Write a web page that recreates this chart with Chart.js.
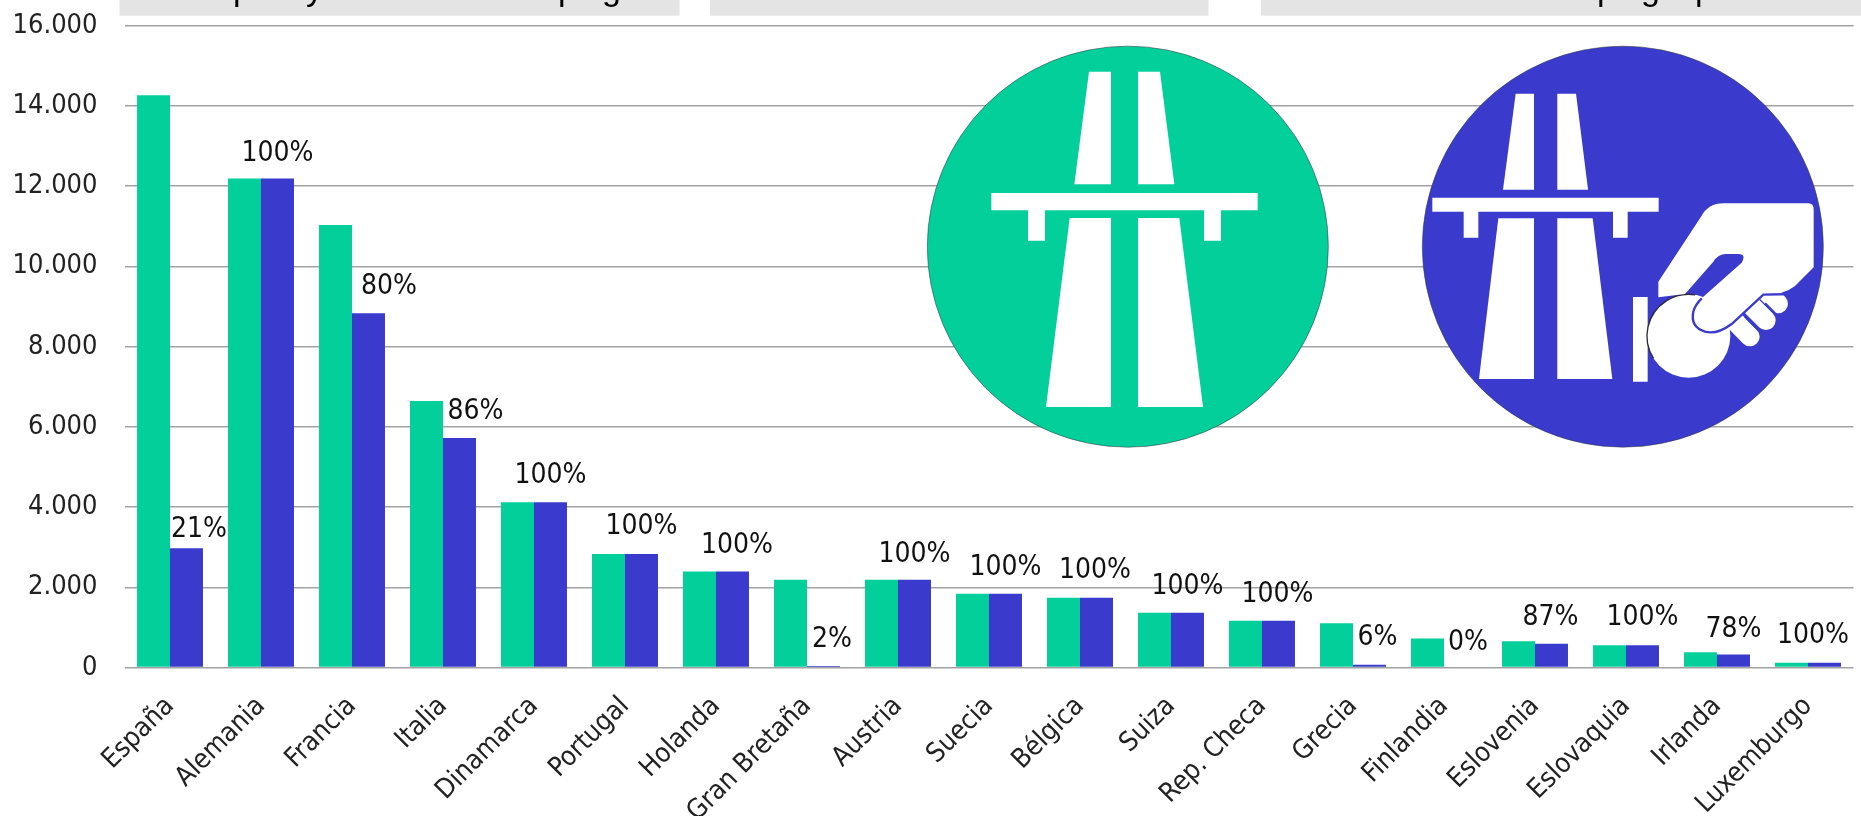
<!DOCTYPE html>
<html>
<head>
<meta charset="utf-8">
<title>Autopistas</title>
<style>
    html, body { margin: 0; padding: 0; background: #fff; overflow: hidden; }
    canvas { display: block; }
</style>
<script src="https://cdn.jsdelivr.net/npm/chart.js@4/dist/chart.umd.min.js"></script>
</head>
<body>
<canvas id="roadsChart" width="1861" height="816"></canvas>
<script>
const categories = ['España', 'Alemania', 'Francia', 'Italia', 'Dinamarca', 'Portugal', 'Holanda', 'Gran Bretaña', 'Austria', 'Suecia', 'Bélgica', 'Suiza', 'Rep. Checa', 'Grecia', 'Finlandia', 'Eslovenia', 'Eslovaquia', 'Irlanda', 'Luxemburgo'];
const totalKm = [14260, 12185, 11030, 6640, 4120, 2830, 2390, 2190, 2190, 1840, 1740, 1365, 1165, 1100, 724, 657, 557, 382, 117];
const tollKm = [2970, 12185, 8830, 5720, 4120, 2830, 2390, 40, 2190, 1840, 1740, 1365, 1165, 70, 0, 590, 557, 325, 117];
const percentLabels = ['21%', '100%', '80%', '86%', '100%', '100%', '100%', '2%', '100%', '100%', '100%', '100%', '100%', '6%', '0%', '87%', '100%', '78%', '100%'];
const yTickLabels = ['0', '2.000', '4.000', '6.000', '8.000', '10.000', '12.000', '14.000', '16.000'];

// hand placed label shifts, relative to the top of the blue bar
const labelShiftX = [12.5, 0, 20.5, 16, 0, 0, 4.5, 8.5, 0, 0, -1.5, 0, -1, 8, 7.5, -1, 0, 0, -11.5];
const labelShiftY = [-19, -25, -26, -26, -26, -27, -26, -26, -25, -26, -27, -26, -26, -27, -25, -26, -27, -25, -27];

const GREEN = '#03CF9B';
const BLUE = '#3A3ACC';
const FONT = "'DejaVu Sans Condensed', 'DejaVu Sans', sans-serif";

function polygon(ctx, points) {
    ctx.beginPath();
    points.forEach((p, i) => i ? ctx.lineTo(p[0], p[1]) : ctx.moveTo(p[0], p[1]));
    ctx.closePath();
    ctx.fill();
}

function disc(ctx, color) {
    ctx.beginPath();
    ctx.arc(623.5, 620, 601.5, 0, Math.PI * 2);
    ctx.fillStyle = color;
    ctx.fill();
    ctx.lineWidth = 3;
    ctx.strokeStyle = 'rgba(50,60,70,0.55)';
    ctx.stroke();
    ctx.fillStyle = '#fff';
}

// icons are sketched in 3x pixels, hence the scale
function drawGreenIcon(ctx) {
    ctx.save();
    ctx.translate(920, 40);
    ctx.scale(1 / 3, 1 / 3);
    disc(ctx, GREEN);
    polygon(ctx, [[507, 95], [573, 95], [573, 433], [463, 433]]);
    polygon(ctx, [[654, 95], [720, 95], [763, 433], [654, 433]]);
    polygon(ctx, [[214, 459], [1013, 459], [1013, 511], [903, 511], [903, 602], [852, 602], [852, 511], [375, 511], [375, 602], [324, 602], [324, 511], [214, 511]]);
    polygon(ctx, [[449, 534], [573, 534], [573, 1101], [378, 1101]]);
    polygon(ctx, [[654, 534], [778, 534], [849, 1101], [654, 1101]]);
    ctx.restore();
}

function drawBlueIcon(ctx) {
    ctx.save();
    ctx.translate(1415, 40);
    ctx.scale(1 / 3, 1 / 3);
    disc(ctx, BLUE);
    polygon(ctx, [[302, 161], [357, 161], [357, 449], [264, 449]]);
    polygon(ctx, [[427, 161], [483, 161], [519, 449], [427, 449]]);
    polygon(ctx, [[52, 473], [731, 473], [731, 515], [638, 515], [638, 593], [594, 593], [594, 515], [190, 515], [190, 593], [146, 593], [146, 515], [52, 515]]);
    polygon(ctx, [[250, 535], [357, 535], [357, 1017], [192, 1017]]);
    polygon(ctx, [[427, 535], [533, 535], [592, 1017], [427, 1017]]);
    polygon(ctx, [[654, 771], [698, 771], [698, 1025], [654, 1025]]);

    // coin
    ctx.beginPath();
    ctx.arc(821, 888, 125, 0, Math.PI * 2);
    ctx.fill();
    ctx.beginPath();
    ctx.arc(821, 888, 125, Math.PI * 0.82, Math.PI * 1.55);
    ctx.lineWidth = 4;
    ctx.strokeStyle = '#2b2b3a';
    ctx.stroke();

    // fingers
    ctx.lineCap = 'round';
    ctx.lineWidth = 58;
    ctx.strokeStyle = '#fff';
    [[[1041, 741], [1090, 791]], [[990, 778], [1053, 841]], [[942, 826], [1005, 890]]].forEach(f => {
        ctx.beginPath();
        ctx.moveTo(f[0][0], f[0][1]);
        ctx.lineTo(f[1][0], f[1][1]);
        ctx.stroke();
    });
    ctx.lineCap = 'butt';

    // hand
    ctx.beginPath();
    ctx.moveTo(730, 772);
    ctx.lineTo(730, 725);
    ctx.lineTo(858, 530);
    ctx.quadraticCurveTo(880, 490, 925, 490);
    ctx.lineTo(1180, 490);
    ctx.quadraticCurveTo(1196, 490, 1196, 508);
    ctx.lineTo(1196, 682);
    ctx.lineTo(1140, 738);
    ctx.quadraticCurveTo(1110, 762, 1045, 768);
    ctx.lineTo(950, 852);
    ctx.quadraticCurveTo(905, 885, 870, 875);
    ctx.quadraticCurveTo(825, 860, 835, 815);
    ctx.quadraticCurveTo(840, 795, 860, 775);
    ctx.lineTo(980, 668);
    ctx.quadraticCurveTo(995, 642, 970, 642);
    ctx.lineTo(930, 642);
    ctx.quadraticCurveTo(908, 644, 895, 665);
    ctx.lineTo(810, 762);
    ctx.closePath();
    ctx.fill();

    // blue rim round the thumb and over the first finger
    ctx.beginPath();
    ctx.moveTo(1140, 762);
    ctx.lineTo(1045, 764);
    ctx.lineTo(950, 852);
    ctx.quadraticCurveTo(905, 885, 870, 875);
    ctx.quadraticCurveTo(825, 860, 835, 815);
    ctx.quadraticCurveTo(840, 795, 860, 775);
    ctx.lineWidth = 7;
    ctx.strokeStyle = BLUE;
    ctx.stroke();

    // thin blue gaps between the fingers
    [[[1050, 790], [1085, 825]], [[990, 830], [1030, 870]]].forEach(f => {
        ctx.beginPath();
        ctx.moveTo(f[0][0], f[0][1]);
        ctx.lineTo(f[1][0], f[1][1]);
        ctx.stroke();
    });
    ctx.restore();
}

// grey title strips, the headings are cut off by the page top
const headerPlugin = {
    id: 'header',
    beforeDraw(chart) {
        const ctx = chart.ctx;
        ctx.save();
        ctx.fillStyle = '#E4E4E4';
        ctx.fillRect(119.5, 0, 560, 15.7);
        ctx.fillRect(710, 0, 498.5, 15.7);
        ctx.fillRect(1261, 0, 600, 15.7);
        ctx.fillStyle = '#000';
        ctx.font = "34px 'Liberation Sans', sans-serif";
        ctx.textBaseline = 'alphabetic';
        [['p', 233], ['y', 306], ['p', 558], ['g', 602], ['p', 1597], ['g', 1641], ['p', 1695]].forEach(g => {
            ctx.fillText(g[0], g[1], 0);
        });
        ctx.restore();
    }
};

const overlayPlugin = {
    id: 'overlay',
    afterDatasetsDraw(chart) {
        const ctx = chart.ctx;
        drawGreenIcon(ctx);
        drawBlueIcon(ctx);

        // percent labels, anchored on the blue bars
        ctx.save();
        ctx.fillStyle = '#111';
        ctx.font = '28px ' + FONT;
        ctx.textAlign = 'center';
        ctx.textBaseline = 'middle';
        chart.getDatasetMeta(1).data.forEach((bar, i) => {
            ctx.fillText(percentLabels[i], bar.x + labelShiftX[i], bar.y + labelShiftY[i]);
        });
        ctx.restore();
    }
};

new Chart(document.getElementById('roadsChart'), {
    type: 'bar',
    data: {
        labels: categories,
        datasets: [
            { label: 'Total', data: totalKm, backgroundColor: GREEN, categoryPercentage: 0.725, barPercentage: 1 },
            { label: 'Peaje', data: tollKm, backgroundColor: BLUE, categoryPercentage: 0.725, barPercentage: 1 }
        ]
    },
    options: {
        responsive: false,
        animation: false,
        layout: { padding: { top: 25.5, right: 7.5, left: 0, bottom: 0 } },
        plugins: { legend: { display: false }, tooltip: { enabled: false } },
        scales: {
            x: {
                grid: { display: false },
                border: { display: false },
                afterFit(scale) { scale.height = 148.5; },
                ticks: {
                    autoSkip: false,
                    maxRotation: 45,
                    minRotation: 45,
                    padding: 15,
                    color: '#222',
                    font: { family: FONT, size: 27 }
                }
            },
            y: {
                min: 0,
                max: 16000,
                afterFit(scale) {
                    scale.width = 124.5;
                    scale.paddingTop = 0;
                    scale.paddingBottom = 0;
                },
                border: { display: false },
                grid: { color: '#A2A2A2', lineWidth: 1.5, drawTicks: false },
                ticks: {
                    stepSize: 2000,
                    padding: 27,
                    color: '#222',
                    font: { family: FONT, size: 27 },
                    callback: value => yTickLabels[value / 2000]
                }
            }
        }
    },
    plugins: [headerPlugin, overlayPlugin]
});
</script>
</body>
</html>
